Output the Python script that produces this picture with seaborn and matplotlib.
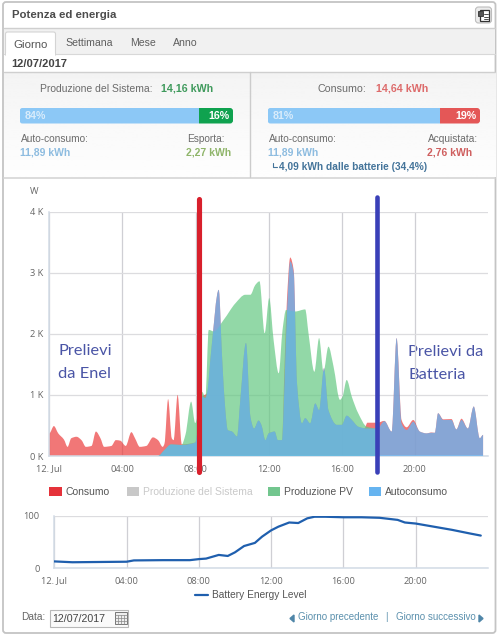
import matplotlib
matplotlib.use("Agg")
import matplotlib.pyplot as plt
from matplotlib.patches import Rectangle, FancyBboxPatch, PathPatch
from matplotlib.path import Path
import numpy as np
import pandas as pd
import seaborn as sns

sns.set_style("white")
plt.rcParams["font.family"] = ["Liberation Sans", "DejaVu Sans"]

# Power series in watts, sampled at irregular hours of the day
consumo_h = [0, .25, .49, .8, 1, 1.2, 1.49, 1.76, 2, 2.31, 2.55, 2.8, 3, 3.4, 3.64, 3.89, 4.18, 4.49, 4.69, 4.95,
             5.31, 5.67, 5.95, 6.2, 6.3, 6.5, 6.7, 6.8, 7.02, 7.25, 7.98, 8.36, 8.63, 8.85, 9.27, 9.45, 9.63, 9.76,
             10, 10.27, 10.45, 10.76, 11, 11.2, 11.45, 11.6, 11.82, 12, 12.33, 12.5, 12.73, 12.87, 13, 13.18, 13.37,
             13.55, 13.82, 14, 14.27, 14.55, 14.76, 15.03, 15.27, 15.73, 16, 16.27, 16.55, 16.9, 17.25, 17.4, 17.95,
             18.33, 18.73, 19, 19.27, 19.55, 19.91, 20.27, 20.64, 20.9, 21.09, 21.27, 21.55, 22, 22.27, 22.55,
             22.9, 23.22, 23.55, 23.73]
consumo_w = [370, 490, 370, 270, 150, 290, 315, 260, 150, 165, 400, 290, 150, 165, 260, 250, 165, 390, 290, 150,
             165, 305, 260, 150, 200, 930, 290, 260, 1000, 190, 220, 970, 1030, 1700, 2720, 1630, 750, 425,
             400, 320, 920, 1850, 645, 450, 580, 510, 260, 370, 400, 260, 260, 1500, 2550, 3250, 3040,
             1190, 535, 620, 535, 860, 750, 1437, 750, 510, 510, 660, 590, 480, 455, 545, 545,
             575, 400, 1930, 590, 470, 590, 400, 370, 385, 380, 700, 600, 605, 435, 610,
             450, 810, 290, 345]

auto_h = [5.95, 6.3, 6.67, 7.25, 7.98, 8.36, 8.54, 8.63, 8.85, 9.27, 9.45, 9.63, 9.76, 10, 10.27, 10.45, 10.76, 11,
          11.2, 11.45, 11.6, 11.82, 12, 12.33, 12.5, 12.73, 12.87, 13, 13.18, 13.37, 13.55, 13.82, 14, 14.27, 14.55,
          14.76, 15.03, 15.27, 15.73, 16, 16.27, 16.55, 16.9, 17.37, 17.95, 18.33, 18.73, 19, 19.27, 19.55, 19.91,
          20.27, 20.64, 20.9, 21.09, 21.27, 21.55, 22, 22.27, 22.55, 22.9, 23.22, 23.55, 23.73]
auto_w = [0, 100, 190, 180, 220, 970, 950, 1030, 1700, 2720, 1630, 750, 425, 400, 320, 920, 1850, 645,
          450, 580, 510, 260, 370, 400, 260, 260, 1190, 2340, 3185, 3000, 1190, 535, 620, 535, 860,
          750, 1437, 750, 510, 510, 660, 590, 480, 450, 450, 570, 400, 1930, 535, 425, 560,
          400, 370, 380, 380, 700, 590, 590, 435, 590, 450, 810, 290, 345]

pv_h = [5.95, 6.3, 6.67, 7.23, 7.45, 7.76, 7.98, 8.2, 8.36, 8.54, 8.72, 9, 9.54, 10.18, 10.72, 11, 11.27, 11.5, 11.78,
        12.03, 12.27, 12.55, 12.76, 12.95, 13.45, 14, 14.18, 14.5, 14.76, 15, 15.27, 15.55, 15.9, 16.04, 16.27, 16.55,
        16.9, 17.37, 17.95]
pv_w = [0, 100, 190, 180, 350, 890, 540, 800, 1050, 960, 2065, 2040, 2230, 2500, 2640, 2640, 2800, 2860, 2010,
        2585, 1900, 1355, 2065, 2390, 2366, 2400, 2010, 1380, 1930, 1380, 1790, 1465, 920, 970, 1245, 970,
        700, 480, 450]

battery_h = [0, 1, 4, 4.4, 6, 7.5, 8, 8.4, 8.8, 9.1, 9.6, 10, 10.5, 10.8, 11.1, 11.5, 12, 12.4, 13, 13.5, 14, 14.4,
             15, 16, 17, 18, 19, 19.4, 20, 21, 22, 23, 23.6]
battery_pct = [12.6, 11, 12, 14.5, 15, 15, 17, 18, 22, 25, 23, 30, 42, 45, 48, 60, 72, 79, 87, 86, 95, 98,
               98, 97, 97, 96, 92, 87, 85, 79, 73, 66, 62]

# Hours where the two annotation rules cross the power chart
rule_hours = [8.18, 17.94]

hour_ticks = [0, 4, 8, 12, 16, 20]
hour_labels = ["12. Jul", "04:00", "08:00", "12:00", "16:00", "20:00"]
power_ticks = [0, 1000, 2000, 3000, 4000]
power_labels = ["0 K", "1 K", "2 K", "3 K", "4 K"]
legend_names = ["Consumo", "Produzione del Sistema", "Produzione PV", "Autoconsumo"]

production_split = [84, 16]
consumption_split = [81, 19]

W, H = 500, 637
fig = plt.figure(figsize=(W / 100, H / 100), dpi=100, facecolor="white")


def axes_px(x0, y0, x1, y1):
    return fig.add_axes([x0 / W, 1 - y1 / H, (x1 - x0) / W, (y1 - y0) / H])


def spline_area(ax, xs, ys, color, alpha, z):
    """Fill under a Bezier spline through the samples, with flat tangents at local extremes."""
    x = np.asarray(xs, float)
    y = np.asarray(ys, float)
    slope = np.diff(y) / np.diff(x)
    tangent = np.zeros_like(y)
    for i in range(1, len(y) - 1):
        if slope[i - 1] * slope[i] > 0:
            tangent[i] = 2 * slope[i - 1] * slope[i] / (slope[i - 1] + slope[i])
    verts = [(x[0], 0), (x[0], y[0])]
    codes = [Path.MOVETO, Path.LINETO]
    for i in range(len(x) - 1):
        d = (x[i + 1] - x[i]) / 3
        verts += [(x[i] + d, y[i] + tangent[i] * d), (x[i + 1] - d, y[i + 1] - tangent[i + 1] * d), (x[i + 1], y[i + 1])]
        codes += [Path.CURVE4] * 3
    verts += [(x[-1], 0), (x[0], 0)]
    codes += [Path.LINETO, Path.CLOSEPOLY]
    ax.add_patch(PathPatch(Path(verts, codes), fc=color, alpha=alpha, lw=0, zorder=z))


def style_ticks(ax, y_pad):
    ax.tick_params(length=0, labelsize=6.7, labelcolor="#666666")
    ax.tick_params(axis="y", pad=y_pad)
    # Baseline alignment keeps the date label level with the hour labels
    ax.tick_params(axis="x", pad=11.2)
    for tick in ax.get_xticklabels():
        tick.set_family(AXIS_FONT)
        tick.set_verticalalignment("baseline")
    for tick in ax.get_yticklabels():
        tick.set_family(AXIS_FONT)
    for name, sp in ax.spines.items():
        sp.set_visible(name in ("left", "bottom"))
        sp.set_color("#d2dbe6")
        sp.set_linewidth(1.1)


# Page furniture is laid out on a pixel-sized canvas
page = axes_px(0, 0, W, H)
page.set_xlim(0, W)
page.set_ylim(H, 0)
page.axis("off")

GREY = "#5f5f5f"
RULE = "#cfcfcf"
TEXT_FONT = ["Liberation Sans", "DejaVu Sans"]
AXIS_FONT = ["Open Sans", "DejaVu Sans"]
NOTE_FONT = ["Lato", "DejaVu Sans"]


def box(x0, y0, x1, y1, fc, ec="none", lw=0.0, z=1):
    page.add_patch(Rectangle((x0, y0), x1 - x0, y1 - y0, fc=fc, ec=ec, lw=lw, zorder=z))


def label(x, y, s, color=GREY, size=7.7, ha="left", weight="normal", family=None, z=5):
    page.text(x, y, s, color=color, fontsize=size, ha=ha, va="center", weight=weight,
              family=family if family else TEXT_FONT, zorder=z)


page.add_patch(FancyBboxPatch((3, 2), 492.5, 631, boxstyle="round,pad=0,rounding_size=3", fc="white",
                              ec="#c4c4c4", lw=1.3, zorder=0.5))
box(3.5, 27.5, 495, 54, "#f1f1f1", z=1)
page.plot([3.5, 495], [27.5, 27.5], color=RULE, lw=1, zorder=2)
page.plot([3.5, 495], [54, 54], color="#d8d8d8", lw=0.8, zorder=2)
page.add_patch(FancyBboxPatch((5.5, 32), 50, 24, boxstyle="round,pad=0,rounding_size=2", fc="white",
                              ec="#d4d4d4", lw=0.8, zorder=2))
box(6, 53, 55, 57, "white", z=2.5)
label(12, 14.5, "Potenza ed energia", color="#4c4c4c", size=8.2, weight="bold")
label(13, 44.5, "Giorno", color="#555555", size=8.2)
label(65, 43.5, "Settimana", size=7.6)
label(130, 43.5, "Mese", size=7.6)
label(172.5, 43.5, "Anno", size=7.6)
label(11.5, 64, "12/07/2017", color="#444444", size=8, weight="bold")

# Stats panels with a faint top-to-bottom fade
fade = np.linspace(0.955, 0.995, 64).reshape(-1, 1)
page.imshow(fade, extent=(3.5, 495, 177, 72), cmap="gray", vmin=0, vmax=1, aspect="auto", zorder=1)
page.set_xlim(0, W)
page.set_ylim(H, 0)
page.plot([3.5, 495], [72, 72], color=RULE, lw=1, zorder=2)
page.plot([3.5, 495], [177.5, 177.5], color="#d6d6d6", lw=1.2, zorder=2)
page.plot([250, 250], [72, 177], color="#cccccc", lw=1, zorder=2)

# Export icon in the header
page.add_patch(FancyBboxPatch((475.5, 7), 16, 16, boxstyle="round,pad=0,rounding_size=3", fc="#ececec",
                              ec="#bdbdbd", lw=0.8, zorder=2))
page.add_patch(Rectangle((480, 9.5), 9, 11, fc="white", ec="#333333", lw=0.9, zorder=3))
page.add_patch(Rectangle((478, 11), 5, 4.5, fc="#555555", ec="#333333", lw=0.6, zorder=3))
for yy in (14, 16.5, 18.5):
    page.plot([483.5, 487.5], [yy, yy], color="#333333", lw=0.6, zorder=4)

label(152.5, 88.5, "Produzione del Sistema:", ha="right", color="#6b6b6b", size=7.5)
label(161, 88.5, "14,16 kWh", color="#3f9a5c", size=7.7, weight="bold")
label(366, 88.5, "Consumo:", ha="right", color="#6b6b6b", size=7.7)
label(376, 88.5, "14,64 kWh", color="#dd6b6b", size=7.7, weight="bold")
label(20.5, 139, "Auto-consumo:", color="#6b6b6b", size=7.3)
label(20.5, 152.5, "11,89 kWh", color="#8dbce0", size=7.5, weight="bold")
label(225, 139, "Esporta:", ha="right", color="#6b6b6b", size=7.3)
label(231, 152.5, "2,27 kWh", ha="right", color="#8fb56a", size=7.5, weight="bold")
label(268.5, 139, "Auto-consumo:", color="#6b6b6b", size=7.3)
label(268.5, 152.5, "11,89 kWh", color="#8dbce0", size=7.5, weight="bold")
label(478, 139, "Acquistata:", ha="right", color="#6b6b6b", size=7.3)
label(472, 152.5, "2,76 kWh", ha="right", color="#cf5f5f", size=7.5, weight="bold")
page.plot([273, 273, 277], [163, 167, 167], color="#44749a", lw=0.8, zorder=4)
label(279, 167, "4,09 kWh dalle batterie (34,4%)", color="#44749a", size=7.3, weight="bold")


def split_bar(x0, x1, values, end_color):
    ax = axes_px(x0, 108, x1, 123.5)
    ax.barh([0], [values[0]], height=1, color="#8cc8f6", linewidth=0)
    ax.barh([0], [values[1]], left=[values[0]], height=1, color=end_color, linewidth=0)
    ax.set_xlim(0, sum(values))
    ax.set_ylim(-0.5, 0.5)
    ax.axis("off")
    ax.text(values[0] * 0.03, 0, f"{values[0]}%", color="#d9ecfb", fontsize=7.7, weight="bold",
            va="center", ha="left")
    ax.text(sum(values) - 1.5, 0, f"{values[1]}%", color="white", fontsize=7.7, weight="bold", va="center", ha="right")
    outline = FancyBboxPatch((x0, 108), x1 - x0, 15.5, boxstyle="round,pad=0,rounding_size=3",
                             transform=page.transData)
    for patch in ax.patches:
        patch.set_clip_path(outline)


split_bar(19.5, 233, production_split, "#0fa24f")
split_bar(267.5, 480, consumption_split, "#e45757")

# Power chart
AX_GRID = "#dcdcdf"
ax = axes_px(49.3, 211.7, 488, 456)
ax.patch.set_alpha(0)
spline_area(ax, consumo_h, consumo_w, (235 / 255, 55 / 255, 55 / 255), 0.68, 2)
spline_area(ax, pv_h, pv_w, (100 / 255, 200 / 255, 130 / 255), 0.7, 3)
spline_area(ax, auto_h, auto_w, (100 / 255, 182 / 255, 245 / 255), 0.75, 4)
ax.set_xlim(0, 24)
ax.set_ylim(0, 4000)
ax.set_xticks(hour_ticks, hour_labels)
ax.set_yticks(power_ticks, power_labels)
ax.grid(True, axis="y", color=AX_GRID, lw=0.9, zorder=0)
ax.grid(True, axis="x", color="#cfcfd4", lw=0.9, zorder=0)
ax.set_axisbelow(True)
style_ticks(ax, 4.5)
label(29.5, 192, "W", color="#666666", size=6.7, family=AXIS_FONT)

# Rules marking where grid supply ends and battery supply begins
ax.plot([rule_hours[0]] * 2, [-262, 4210], color="#d8202c", lw=3.7, solid_capstyle="round", clip_on=False, zorder=6)
ax.plot([rule_hours[1]] * 2, [-262, 4240], color="#3a40b8", lw=3.3, solid_capstyle="round", clip_on=False, zorder=6)
for x, y, s in [(58.5, 351, "Prelievi"), (58.5, 374, "da Enel"), (408.5, 352, "Prelievi da"), (408.5, 375, "Batteria")]:
    label(x, y, s, color="#4a55a6", size=11.8, family=NOTE_FONT, z=8)
page.set_zorder(0)
ax.set_zorder(2)

# Series legend
swatches = ["#e5323a", "#c8c8c8", "#72c68e", "#66b4f0"]
swatch_x = [49, 126.5, 267.5, 368.5]
text_colors = ["#555555", "#c9c9c9", "#555555", "#555555"]
for x, c, name, tc in zip(swatch_x, swatches, legend_names, text_colors):
    box(x, 487, x + 12.5, 496, c, z=3)
    label(x + 16.5, 492, name, color=tc, size=7.5)

# Battery chart
bat = axes_px(54.3, 515.7, 488, 568)
bat.patch.set_alpha(0)
df_b = pd.DataFrame({"h": battery_h, "pct": battery_pct})
sns.lineplot(data=df_b, x="h", y="pct", ax=bat, color="#1f5fae", lw=1.6, errorbar=None, estimator=None, zorder=4)
bat.set_xlim(0, 24)
bat.set_ylim(0, 100)
bat.set_xticks(hour_ticks, hour_labels)
bat.set_yticks([0, 100], ["0", "100"])
bat.set_xlabel("")
bat.set_ylabel("")
bat.grid(True, axis="y", color=AX_GRID, lw=0.9)
bat.grid(True, axis="x", color="#cfcfd4", lw=0.9)
bat.set_axisbelow(True)
style_ticks(bat, 10.5)
page.plot([195, 207.5], [595, 595], color="#1f5fae", lw=1.6, zorder=4)
label(211.5, 595.5, "Battery Energy Level", color="#555555", size=7.3)

# Date picker and day navigation
label(21, 617, "Data:", color="#666666", size=7.3)
box(50, 610, 128, 626.5, "#fafafa", ec="#b8b8b8", lw=0.8, z=2)
label(52.5, 618.5, "12/07/2017", color="#444444", size=7.7)
box(114.5, 612, 126.5, 624, "#eeeeee", ec="#777777", lw=0.7, z=3)
for xx in (117.5, 120.5, 123.5):
    page.plot([xx, xx], [615, 624], color="#888888", lw=0.5, zorder=4)
for yy in (615, 618, 621):
    page.plot([114.5, 126.5], [yy, yy], color="#888888", lw=0.5, zorder=4)
page.fill([290, 294, 294], [618.5, 615, 622], color="#4f86a8", zorder=4)
label(298.5, 617.5, "Giorno precedente", color="#5b90ad", size=7.0)
label(386.5, 617.5, "|", color="#5b90ad", size=7.0, ha="center")
label(396, 617.5, "Giorno successivo", color="#5b90ad", size=7.0)
page.fill([483, 479, 479], [618.5, 615, 622], color="#4f86a8", zorder=4)

fig.savefig("out.png", dpi=100)
